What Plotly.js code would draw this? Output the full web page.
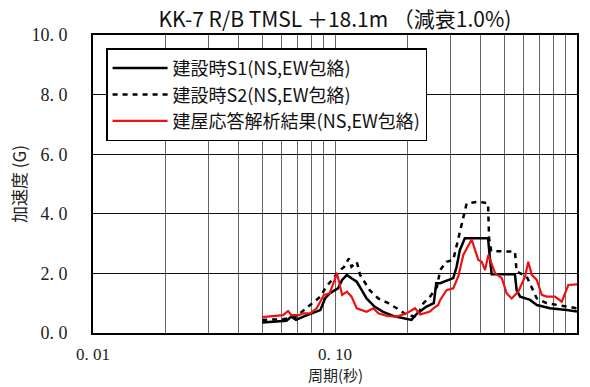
<!DOCTYPE html>
<html>
<head>
<meta charset="utf-8">
<script src="https://cdn.plot.ly/plotly-3.0.1.min.js"></script>
<style>
  html, body { margin: 0; padding: 0; background: #fff; }
  #chart { width: 590px; height: 387px; }
</style>
</head>
<body>
<div id="chart"></div>
<script>
// Floor response spectra, KK-7 R/B TMSL +18.1m, damping 1.0%
// Period (s) and acceleration (G) for each envelope.

const s1Period = [0.050,0.057,0.063,0.066,0.069,0.074,0.080,0.087,0.091,0.095,
                  0.100,0.103,0.107,0.112,0.117,0.123,0.129,0.135,0.146,0.158,
                  0.174,0.191,0.207,0.218,0.238,0.256,0.262,0.272,0.308,0.318,
                  0.328,0.344,0.429,0.436,0.444,0.554,0.563,0.582,0.640,0.682,
                  0.774,0.907,1.0];
const s1Accel  = [0.35,0.38,0.41,0.55,0.44,0.55,0.66,0.77,1.16,1.33,
                  1.44,1.50,1.78,1.95,1.84,1.72,1.44,1.16,0.88,0.71,
                  0.57,0.49,0.44,0.65,0.88,1.00,1.67,1.67,1.84,2.22,
                  2.78,3.18,3.18,2.56,1.97,1.97,1.44,1.22,1.11,0.94,
                  0.83,0.77,0.72];

const s2Period = [0.050,0.061,0.069,0.076,0.081,0.087,0.092,0.099,0.105,0.109,
                  0.114,0.117,0.123,0.127,0.133,0.139,0.151,0.166,0.180,0.198,
                  0.218,0.232,0.247,0.264,0.272,0.289,0.308,0.323,0.334,0.350,
                  0.391,0.429,0.433,0.442,0.554,0.563,0.620,0.650,0.682,0.750,
                  0.823,1.0];
const s2Accel  = [0.44,0.46,0.55,0.83,1.00,1.22,1.55,1.84,2.11,2.22,
                  2.50,2.22,2.39,1.95,1.67,1.44,1.16,1.00,0.83,0.60,
                  0.55,1.00,1.22,1.55,2.11,2.39,2.45,3.12,3.69,4.35,
                  4.41,4.35,3.20,2.75,2.73,2.06,1.89,1.55,1.16,1.00,
                  0.94,0.83];

const bldPeriod = [0.050,0.054,0.057,0.061,0.064,0.066,0.071,0.074,0.079,0.084,
                   0.090,0.095,0.102,0.107,0.112,0.117,0.123,0.129,0.135,0.144,
                   0.151,0.164,0.180,0.198,0.214,0.225,0.247,0.255,0.267,0.272,
                   0.289,0.308,0.323,0.339,0.367,0.391,0.404,0.417,0.430,0.459,
                   0.489,0.512,0.537,0.572,0.610,0.629,0.650,0.682,0.715,0.750,
                   0.811,0.865,0.921,1.0];
const bldAccel  = [0.53,0.55,0.57,0.60,0.74,0.60,0.60,0.66,0.66,0.83,
                   1.28,1.33,2.00,1.28,1.39,1.22,0.83,0.77,0.71,0.83,
                   0.66,0.57,0.55,0.66,0.83,0.62,0.72,0.83,0.94,1.11,
                   1.44,1.50,1.89,2.62,3.14,2.45,2.39,2.11,2.62,2.00,
                   1.84,1.33,1.16,1.39,1.89,2.39,1.95,1.78,1.28,1.22,
                   1.22,1.05,1.61,1.63];

const seriesNames = ['建設時S1(NS,EW包絡)', '建設時S2(NS,EW包絡)', '建屋応答解析結果(NS,EW包絡)'];

// Log-axis grid: a line at every 1..9 multiple, labels only at decades
const xTickVals = [0.01,0.02,0.03,0.04,0.05,0.06,0.07,0.08,0.09,
                   0.1,0.2,0.3,0.4,0.5,0.6,0.7,0.8,0.9,1.0];
const xTickText = ['0. 01','','','','','','','','',
                   '0. 10','','','','','','','','',
                   '1. 00'];
const yTickVals = [0,2,4,6,8,10];
const yTickText = ['0. 0','2. 0','4. 0','6. 0','8. 0','10. 0'];

const sans = '"Noto Sans CJK JP", "Noto Sans", sans-serif';
const serif = '"Liberation Serif", "DejaVu Serif", serif';

const traces = [
  { x: s1Period, y: s1Accel, name: seriesNames[0], type: 'scatter', mode: 'lines',
    line: { color: '#000000', width: 2.5 } },
  { x: s2Period, y: s2Accel, name: seriesNames[1], type: 'scatter', mode: 'lines',
    line: { color: '#000000', width: 2.5, dash: '5px,5px' } },
  { x: bldPeriod, y: bldAccel, name: seriesNames[2], type: 'scatter', mode: 'lines',
    line: { color: '#ee1111', width: 2.2 } }
];

const layout = {
  width: 590,
  height: 387,
  margin: { l: 93, r: 13, t: 35, b: 54 },
  paper_bgcolor: '#ffffff',
  plot_bgcolor: '#ffffff',
  showlegend: true,
  title: {
    text: 'KK-7 R/B TMSL ＋18.1m （減衰1.0%)',
    font: { family: sans, size: 21, color: '#111111' },
    x: 0.5, xref: 'paper', xanchor: 'center',
    y: 0.948, yref: 'container', yanchor: 'middle'
  },
  xaxis: {
    type: 'log',
    range: [-2, 0],
    tickmode: 'array',
    tickvals: xTickVals,
    ticktext: xTickText,
    ticks: 'outside',
    ticklen: 5,
    tickcolor: 'rgba(0,0,0,0)',
    tickfont: { family: serif, size: 17, color: '#222222' },
    showgrid: true,
    gridcolor: '#666666',
    gridwidth: 1,
    showline: true,
    linecolor: '#000000',
    linewidth: 2,
    mirror: true,
    zeroline: false
  },
  yaxis: {
    range: [0, 10],
    tickmode: 'array',
    tickvals: yTickVals,
    ticktext: yTickText,
    ticks: 'outside',
    ticklen: 20,
    tickcolor: 'rgba(0,0,0,0)',
    tickfont: { family: serif, size: 18, color: '#222222' },
    showgrid: true,
    gridcolor: '#111111',
    gridwidth: 1,
    showline: true,
    linecolor: '#000000',
    linewidth: 2,
    mirror: true,
    zeroline: false,
    title: {
      text: '加速度 (G)',
      font: { family: sans, size: 17, color: '#222222' },
      standoff: 0
    }
  },
  // Period label sits low, at the bottom edge of the figure
  annotations: [{
    text: '周期(秒)',
    xref: 'paper', yref: 'paper',
    x: 0.5, y: -0.138,
    xanchor: 'center', yanchor: 'middle',
    showarrow: false,
    borderpad: 0,
    font: { family: sans, size: 15, color: '#222222' }
  }],
  legend: {
    x: 0.027, xanchor: 'left',
    y: 0.955, yanchor: 'top',
    bgcolor: '#ffffff',
    bordercolor: '#000000',
    borderwidth: 1.5,
    itemwidth: 55,
    font: { family: sans, size: 18, color: '#111111' },
    tracegroupgap: 0
  }
};

Plotly.newPlot('chart', traces, layout, { staticPlot: true, displayModeBar: false });
</script>
</body>
</html>
